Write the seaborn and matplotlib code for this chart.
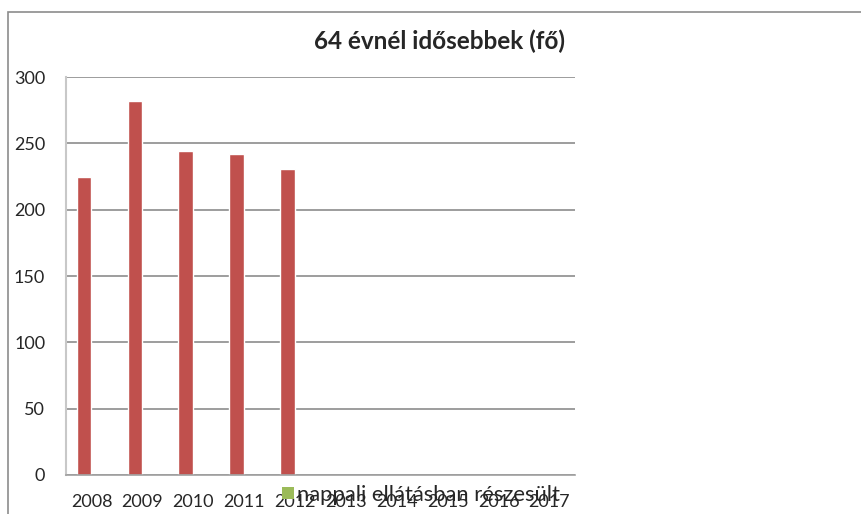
import pandas as pd
import numpy as np
import matplotlib.pyplot as plt
import seaborn as sns
from matplotlib.patches import Patch, Rectangle

# Data
years = ["2008", "2009", "2010", "2011", "2012", "2013", "2014", "2015", "2016", "2017"]
older_64 = [225, 282, 244, 242, 231, np.nan, np.nan, np.nan, np.nan, np.nan]
day_care = [np.nan] * 10          # second series has no visible bars
series_names = ["64 évnél idősebbek", "nappali ellátásban részesült"]
title = "64 évnél idősebbek (fő)"

df = pd.DataFrame({
    "year": years * 2,
    "value": older_64 + day_care,
    "series": [series_names[0]] * 10 + [series_names[1]] * 10,
})
colors = {series_names[0]: "#C0504D", series_names[1]: "#9BBB59"}

sns.set_style("white")
plt.rcParams["font.family"] = ["Lato", "DejaVu Sans"]

fig = plt.figure(figsize=(8.61, 5.14), dpi=100)
ax = fig.add_axes([0.0767, 0.0759, 0.591, 0.774])

sns.barplot(data=df, x="year", y="value", hue="series", order=years,
            hue_order=series_names, palette=colors, width=0.58,
            saturation=1, legend=False, ax=ax)

ax.set_ylim(0, 300)
ax.set_xlim(-0.5, 9.5)
ax.set_yticks(range(0, 301, 50))
ax.yaxis.grid(True, color="#8C8C8C", linewidth=1.2)
ax.set_axisbelow(True)
ax.set_xlabel("")
ax.set_ylabel("")
ax.tick_params(axis="y", labelsize=13, pad=15, length=0)
ax.tick_params(axis="x", labelsize=13, pad=14, length=0)
for s in ["top", "right"]:
    ax.spines[s].set_visible(False)
ax.spines["left"].set_color("#C8C8C8")
ax.spines["left"].set_linewidth(1.5)
ax.spines["bottom"].set_color("#A0A0A0")
ax.spines["bottom"].set_linewidth(1.2)

fig.text(0.511, 0.92, title, ha="center", va="center", fontsize=17.5, fontweight="bold")

# legend shows only the green series, like the original
handle = Patch(facecolor=colors[series_names[1]], edgecolor="none")
fig.legend([handle], [series_names[1]], loc="center left", bbox_to_anchor=(0.327, 0.037),
           frameon=False, fontsize=15.8, handlelength=0.55, handleheight=0.5,
           handletextpad=0.15, borderpad=0, borderaxespad=0)

# outer chart frame
fig.patches.append(Rectangle((8 / 861, -0.1), 2, 1.1 - 12 / 514, transform=fig.transFigure,
                             fill=False, edgecolor="#8C8C8C", linewidth=1.2))

plt.savefig("out.png", dpi=100)
plt.close()
